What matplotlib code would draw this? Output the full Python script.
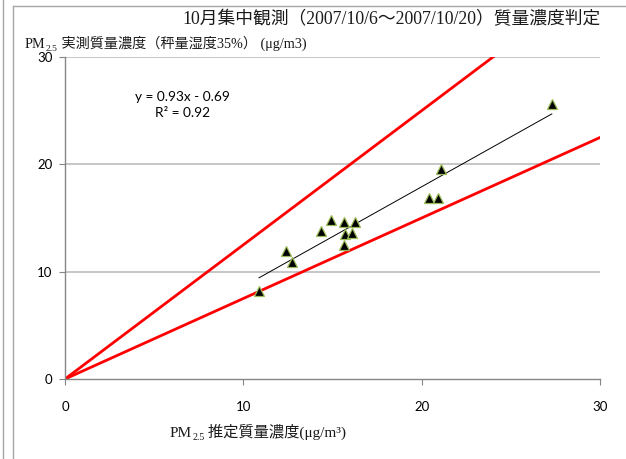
import matplotlib
matplotlib.use("Agg")
import matplotlib.pyplot as plt
from matplotlib.lines import Line2D
import numpy as np

# Estimated vs measured PM2.5 mass concentration (ug/m3)
estimated = [10.88, 12.39, 12.75, 14.37, 14.90, 15.63, 16.28, 15.72, 16.10,
             15.63, 20.40, 20.90, 21.09, 27.30]
measured = [8.23, 11.96, 10.93, 13.79, 14.82, 14.60, 14.60, 13.51, 13.61,
            12.52, 16.84, 16.90, 19.60, 25.63]

# Linear trend (y = slope * x + intercept) and judgement bounds
trend_slope = 0.93
trend_intercept = -0.69
trend_r2 = 0.92
bound_slopes = [1.25, 0.75]

ticks = [0, 10, 20, 30]

W, H = 626, 459
DPI = 100
fig = plt.figure(figsize=(W / DPI, H / DPI), dpi=DPI)
fig.patch.set_facecolor("white")

ax = fig.add_axes([65 / W, 1 - 379 / H, 535 / W, 322 / H])
ax.set_xlim(0, 30)
ax.set_ylim(0, 30)

# Horizontal gridlines
for t in ticks[1:]:
    ax.axhline(t, color="#c6c6c6", lw=1.4, zorder=0)

# Bound lines through origin
xb = np.array([0, 30])
for s in bound_slopes:
    ax.plot(xb, s * xb, color="#ff0000", lw=2.0, zorder=2, clip_on=True)

# Trend line over the data range
xt = np.array([min(estimated), max(estimated)])
ax.plot(xt, trend_slope * xt + trend_intercept, color="black", lw=0.7, zorder=3)

# Data points
ax.plot(estimated, measured, linestyle="none", marker="^", ms=7,
        mfc="black", mec="#9bbb59", mew=0.9, zorder=4)

for side in ["top", "right"]:
    ax.spines[side].set_visible(False)
for side in ["left", "bottom"]:
    ax.spines[side].set_color("#868686")
    ax.spines[side].set_linewidth(1.0)

ax.set_xticks(ticks)
ax.set_yticks(ticks)
ax.set_xticklabels([str(t) for t in ticks], fontfamily="Lato", fontsize=9.5)
ax.set_yticklabels([str(t) for t in ticks], fontfamily="Lato", fontsize=9.5)
ax.tick_params(axis="x", direction="out", length=4, color="#868686", pad=12)
ax.tick_params(axis="y", direction="out", length=4, color="#868686", pad=5)

# Regression equation
ax.text(0.219, 0.875, f"y = {trend_slope:.2f}x - {abs(trend_intercept):.2f}",
        transform=ax.transAxes, ha="center", va="center",
        fontfamily="Lato", fontsize=9.8)
ax.text(0.219, 0.826, f"R² = {trend_r2:.2f}",
        transform=ax.transAxes, ha="center", va="center",
        fontfamily="Lato", fontsize=9.8)

SERIF_CJK = ["Liberation Serif", "Noto Sans CJK JP"]
TEXT_COLOR = "#1a1a1a"


def rich_text(x_px, y_px, pieces):
    """Draw text pieces left to right starting at pixel (x_px, y_px) from top-left.
    Each piece: (text, fontsize, baseline shift in px)."""
    renderer = fig.canvas.get_renderer()
    x = x_px
    for txt, size, dy in pieces:
        t = fig.text(x / W, 1 - (y_px + dy) / H, txt, fontsize=size,
                     family=SERIF_CJK, ha="left", va="baseline", color=TEXT_COLOR)
        bb = t.get_window_extent(renderer=renderer)
        x += bb.width


# Title
fig.text(392 / W, 1 - 20 / H, "10月集中観測（2007/10/6～2007/10/20）質量濃度判定",
         fontsize=12.8, family=SERIF_CJK, ha="center", va="center", color=TEXT_COLOR)

# Y axis label (top left)
rich_text(25, 48, [("PM", 10.2, 0), ("2.5", 6.8, 3),
                   (" 実測質量濃度（秤量湿度35%） (μg/m3)", 10.2, 0)])

# X axis label
rich_text(170, 437, [("PM", 11, 0), ("2.5", 7.2, 3),
                     (" 推定質量濃度(μg/m³)", 11, 0)])

# Frame lines
border = "#a6a6a6"
fig.add_artist(Line2D([3 / W, 3 / W], [0, 1], color=border, lw=1.0))
fig.add_artist(Line2D([13 / W, 13 / W], [0, 1 - 6 / H], color=border, lw=1.0))
fig.add_artist(Line2D([13 / W, 1], [1 - 6 / H, 1 - 6 / H], color=border, lw=1.0))

fig.savefig("out.png", dpi=DPI, facecolor="white")
